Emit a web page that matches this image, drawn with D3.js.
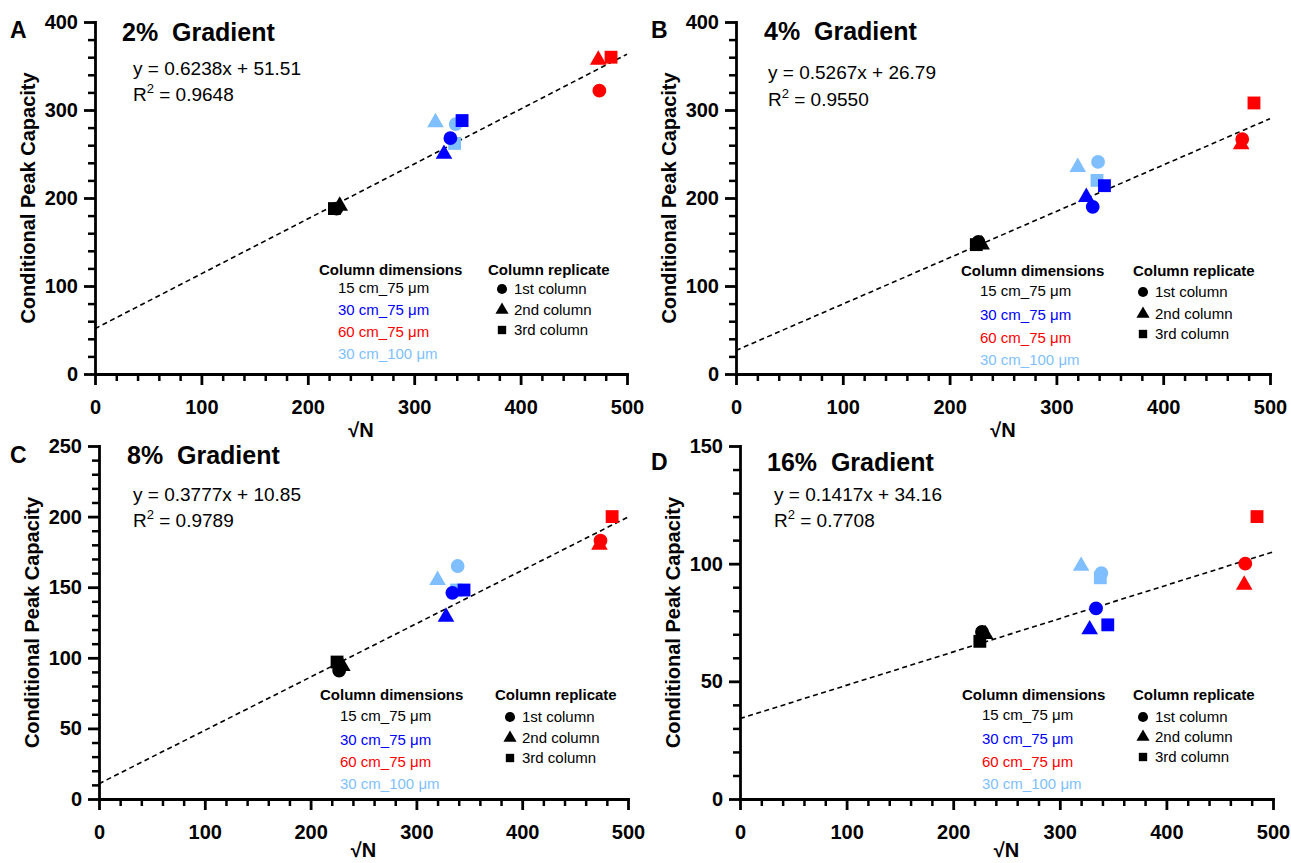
<!DOCTYPE html>
<html>
<head>
<meta charset="utf-8">
<script src="https://cdn.jsdelivr.net/npm/d3@7"></script>
<style>
  html, body { margin: 0; padding: 0; background: #fff; }
  svg { display: block; font-family: "Liberation Sans", Arial, sans-serif; }
</style>
</head>
<body>
<svg id="chart" width="1291" height="863"></svg>
<script>
// ---------------- DATA ----------------
const panelLetters = ["A", "B", "C", "D"];
const panelTitles = ["2%  Gradient", "4%  Gradient", "8%  Gradient", "16%  Gradient"];
const equations = ["y = 0.6238x + 51.51", "y = 0.5267x + 26.79", "y = 0.3777x + 10.85", "y = 0.1417x + 34.16"];
const rSquared = ["0.9648", "0.9550", "0.9789", "0.7708"];
const slopes = [0.6238, 0.5267, 0.3777, 0.1417];
const intercepts = [51.51, 26.79, 10.85, 34.16];
const yMaxes = [400, 400, 250, 150];
const yMajorSteps = [100, 100, 50, 50];
const yMinorSteps = [20, 20, 10, 10];
const xTicks = [0, 100, 200, 300, 400, 500];

const seriesNames = ["30 cm_100 μm", "15 cm_75 μm", "30 cm_75 μm", "60 cm_75 μm"]; // drawing order
const legendDimNames = ["15 cm_75 μm", "30 cm_75 μm", "60 cm_75 μm", "30 cm_100 μm"];
const replicateNames = ["1st column", "2nd column", "3rd column"];

// sqrt(N) per series, replicate order: 1st, 2nd, 3rd column
const xLB    = [339, 320, 338];
const xBlack = [227, 230, 225];
const xBlue  = [334, 328, 345];
const xRed   = [474, 473, 485];

// Conditional peak capacity, per panel, per series (1st, 2nd, 3rd)
const yA_LB = [284, 286, 262], yA_Black = [188, 191, 188], yA_Blue = [268, 250, 288], yA_Red = [322, 357, 360];
const yB_LB = [241, 235, 220], yB_Black = [150, 147, 147], yB_Blue = [190, 201, 214], yB_Red = [267, 261, 308];
const yC_LB = [165, 155, 148], yC_Black = [91, 94, 97],    yC_Blue = [146, 129, 148], yC_Red = [183, 180, 200];
const yD_LB = [96, 99, 94],    yD_Black = [71, 70, 67],    yD_Blue = [81, 72, 74],    yD_Red = [100, 91, 120];

// ---------------- STYLE / LAYOUT ----------------
const colors = { "15 cm_75 μm": "#000000", "30 cm_75 μm": "#0000ff", "60 cm_75 μm": "#ff0000", "30 cm_100 μm": "#80bfff" };
const symbols = [d3.symbolCircle, d3.symbolTriangle, d3.symbolSquare];
const symSizes = [150, 120, 165];
const legSizes = [80, 75, 70];

const layouts = [
  { x0: 95,  x1: 627,  yTop: 22,  yBot: 374, xt: 437, letter: [10, 38],  title: [122, 41],  eq: [133, 75],  r2: [133, 101],
    leg: { h1: [319, 275], items: [338, [293, 315, 337, 359]], h2: [488, 275], mk: [502, [289, 310, 330]] } },
  { x0: 736, x1: 1270, yTop: 22,  yBot: 374, xt: 437, letter: [651, 38], title: [764, 40],  eq: [768, 79],  r2: [768, 106],
    leg: { h1: [961, 276], items: [980, [296, 320, 343, 365]], h2: [1133, 276], mk: [1143, [292, 314, 334]] } },
  { x0: 99,  x1: 628,  yTop: 446, yBot: 799, xt: 857, letter: [10, 463], title: [127, 464], eq: [133, 501], r2: [133, 527],
    leg: { h1: [320, 700], items: [340, [721, 745, 767, 789]], h2: [495, 700], mk: [510, [717, 738, 758]] } },
  { x0: 740, x1: 1273, yTop: 446, yBot: 799, xt: 857, letter: [651, 470], title: [767, 471], eq: [774, 501], r2: [774, 527],
    leg: { h1: [962, 700], items: [982, [720, 744, 767, 789]], h2: [1133, 700], mk: [1143, [717, 737, 757]] } }
];

const panelData = [
  { "30 cm_100 μm": yA_LB, "15 cm_75 μm": yA_Black, "30 cm_75 μm": yA_Blue, "60 cm_75 μm": yA_Red },
  { "30 cm_100 μm": yB_LB, "15 cm_75 μm": yB_Black, "30 cm_75 μm": yB_Blue, "60 cm_75 μm": yB_Red },
  { "30 cm_100 μm": yC_LB, "15 cm_75 μm": yC_Black, "30 cm_75 μm": yC_Blue, "60 cm_75 μm": yC_Red },
  { "30 cm_100 μm": yD_LB, "15 cm_75 μm": yD_Black, "30 cm_75 μm": yD_Blue, "60 cm_75 μm": yD_Red }
];
const xBySeries = { "30 cm_100 μm": xLB, "15 cm_75 μm": xBlack, "30 cm_75 μm": xBlue, "60 cm_75 μm": xRed };

const svg = d3.select("#chart");

layouts.forEach((L, p) => {
  const g = svg.append("g");
  const x = d3.scaleLinear().domain([0, 500]).range([L.x0, L.x1]);
  const y = d3.scaleLinear().domain([0, yMaxes[p]]).range([L.yBot, L.yTop]);

  // regression line
  g.append("line")
    .attr("x1", x(0)).attr("y1", y(intercepts[p]))
    .attr("x2", x(500)).attr("y2", y(slopes[p] * 500 + intercepts[p]))
    .attr("stroke", "#000").attr("stroke-width", 1.6).attr("stroke-dasharray", "5,3.5");

  // minor ticks
  const xMinor = d3.range(0, 501, 20).filter(v => v % 100 !== 0);
  const yMinor = d3.range(0, yMaxes[p] + 0.1, yMinorSteps[p]).filter(v => v % yMajorSteps[p] !== 0);
  g.append("g").attr("transform", `translate(0,${L.yBot})`)
    .call(d3.axisBottom(x).tickValues(xMinor).tickSize(7).tickSizeOuter(0).tickFormat(""))
    .call(a => a.select(".domain").remove())
    .call(a => a.selectAll("line").attr("stroke-width", 2.5));
  g.append("g").attr("transform", `translate(${L.x0},0)`)
    .call(d3.axisLeft(y).tickValues(yMinor).tickSize(7).tickSizeOuter(0).tickFormat(""))
    .call(a => a.select(".domain").remove())
    .call(a => a.selectAll("line").attr("stroke-width", 2.5));

  // major axes
  const xa = g.append("g").attr("transform", `translate(0,${L.yBot})`)
    .call(d3.axisBottom(x).tickValues(xTicks).tickSize(11).tickSizeOuter(0).tickPadding(15));
  const ya = g.append("g").attr("transform", `translate(${L.x0},0)`)
    .call(d3.axisLeft(y).tickValues(d3.range(0, yMaxes[p] + 0.1, yMajorSteps[p])).tickSize(11).tickSizeOuter(0).tickPadding(6));
  [xa, ya].forEach(a => {
    a.select(".domain").attr("stroke-width", 2.8).attr("stroke-linecap", "square");
    a.selectAll("line").attr("stroke-width", 2.8);
    a.selectAll("text").attr("font-size", 20).attr("font-weight", "bold").attr("fill", "#000")
      .attr("font-family", "Liberation Sans, Arial, sans-serif");
  });

  // axis titles
  g.append("text").attr("x", (L.x0 + L.x1) / 2).attr("y", L.xt)
    .attr("text-anchor", "middle").attr("font-size", 20).attr("font-weight", "bold").text("√N");
  g.append("text")
    .attr("transform", `translate(${L.x0 - 60},${(L.yTop + L.yBot) / 2}) rotate(-90)`)
    .attr("text-anchor", "middle").attr("font-size", 20).attr("font-weight", "bold")
    .text("Conditional Peak Capacity");

  // panel letter & title
  g.append("text").attr("x", L.letter[0]).attr("y", L.letter[1]).attr("font-size", 23).attr("font-weight", "bold").text(panelLetters[p]);
  g.append("text").attr("x", L.title[0]).attr("y", L.title[1]).attr("font-size", 25).attr("font-weight", "bold")
    .attr("xml:space", "preserve").style("white-space", "pre").text(panelTitles[p]);
  g.append("text").attr("x", L.eq[0]).attr("y", L.eq[1]).attr("font-size", 19).text(equations[p]);
  const r2 = g.append("text").attr("x", L.r2[0]).attr("y", L.r2[1]).attr("font-size", 19);
  r2.append("tspan").text("R");
  r2.append("tspan").attr("dy", -8).attr("font-size", 13).text("2");
  r2.append("tspan").attr("dy", 8).text(" = " + rSquared[p]);

  // points
  seriesNames.forEach(s => {
    panelData[p][s].forEach((v, i) => {
      g.append("path")
        .attr("d", d3.symbol().type(symbols[i]).size(symSizes[i])())
        .attr("transform", `translate(${x(xBySeries[s][i])},${y(v)})`)
        .attr("fill", colors[s]);
    });
  });

  // legend
  const lg = L.leg;
  g.append("text").attr("x", lg.h1[0]).attr("y", lg.h1[1]).attr("font-size", 15).attr("font-weight", "bold").text("Column dimensions");
  legendDimNames.forEach((n, i) => {
    g.append("text").attr("x", lg.items[0]).attr("y", lg.items[1][i]).attr("font-size", 15).attr("fill", colors[n]).text(n);
  });
  g.append("text").attr("x", lg.h2[0]).attr("y", lg.h2[1]).attr("font-size", 15).attr("font-weight", "bold").text("Column replicate");
  replicateNames.forEach((n, i) => {
    g.append("path").attr("d", d3.symbol().type(symbols[i]).size(legSizes[i])())
      .attr("transform", `translate(${lg.mk[0]},${lg.mk[1][i]})`).attr("fill", "#000");
    g.append("text").attr("x", lg.mk[0] + 12).attr("y", lg.mk[1][i] + 5).attr("font-size", 15).text(n);
  });
});
</script>
</body>
</html>
